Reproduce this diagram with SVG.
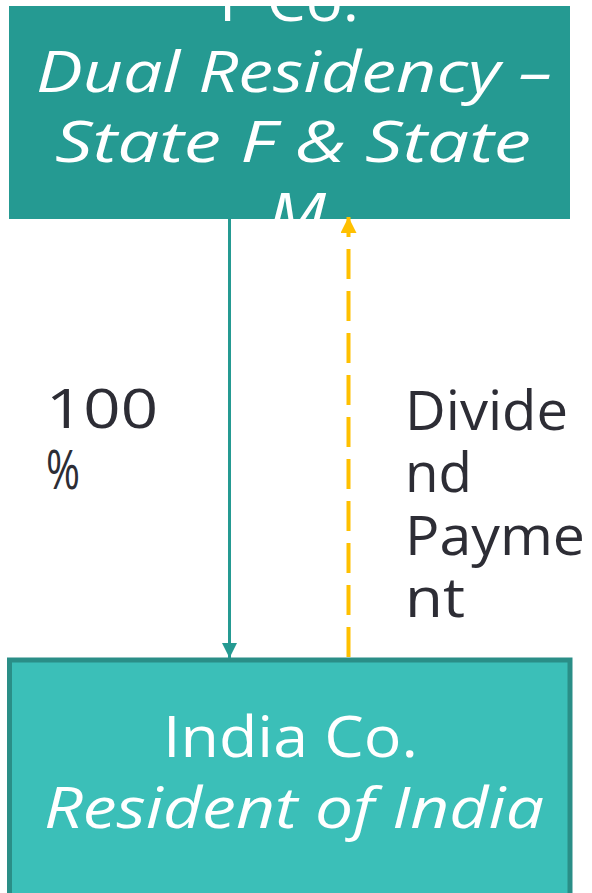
<svg xmlns="http://www.w3.org/2000/svg" width="592" height="893" viewBox="0 0 592 893">
  <style>
    .box-text { font-family: "Open Sans", "DejaVu Sans", sans-serif; fill: #ffffff; font-size: 56px; text-anchor: start; }
    .it { font-style: italic; }
    .label { font-family: "Open Sans", "DejaVu Sans", sans-serif; fill: #2d2d35; font-size: 54px; }
    .own { stroke: #259a92; stroke-width: 3; fill: none; }
    .div { stroke: #ffc000; stroke-width: 4; stroke-dasharray: 30 12; fill: none; }
  </style>
  <defs>
    <clipPath id="clip-fco">
      <rect x="9" y="6" width="561" height="213"/>
    </clipPath>
    <marker id="arrow-teal" viewBox="0 0 10 10" refX="10" refY="5" markerUnits="userSpaceOnUse" markerWidth="15" markerHeight="15" orient="auto">
      <path d="M0,0 L10,5 L0,10 Z" fill="#259a92"/>
    </marker>
    <marker id="arrow-gold" viewBox="0 0 10 10" refX="10" refY="5" markerUnits="userSpaceOnUse" markerWidth="16" markerHeight="16" orient="auto">
      <path d="M0,0 L10,5 L0,10 Z" fill="#ffc000"/>
    </marker>
  </defs>

  <!-- F Co. -->
  <g id="f-co">
    <rect x="9" y="6" width="561" height="213" fill="#259a92"/>
    <g clip-path="url(#clip-fco)">
      <text class="box-text" x="219" y="21" textLength="140" lengthAdjust="spacingAndGlyphs">F Co.</text>
      <text class="box-text it" x="36" y="92" textLength="516" lengthAdjust="spacingAndGlyphs">Dual Residency –</text>
      <text class="box-text it" x="55" y="162" textLength="476" lengthAdjust="spacingAndGlyphs">State F &amp; State</text>
      <text class="box-text it" x="268" y="234" textLength="58" lengthAdjust="spacingAndGlyphs">M</text>
    </g>
  </g>

  <!-- India Co. -->
  <g id="india-co">
    <rect x="9.5" y="660" width="560.5" height="300" fill="#3bbfb8" stroke="#2a8e87" stroke-width="5"/>
    <text class="box-text" x="163" y="757" font-size="58" textLength="255" lengthAdjust="spacingAndGlyphs">India Co.</text>
    <text class="box-text it" x="44" y="828" font-size="58" textLength="500" lengthAdjust="spacingAndGlyphs">Resident of India</text>
  </g>

  <!-- connectors -->
  <g id="connectors">
    <line class="own" x1="229.5" y1="219" x2="229.5" y2="658" marker-end="url(#arrow-teal)"/>
    <line class="div" x1="348.5" y1="657" x2="348.5" y2="217" marker-end="url(#arrow-gold)"/>
    <g id="label-ownership">
      <text class="label" x="46" y="428" textLength="112" lengthAdjust="spacingAndGlyphs">100</text>
      <text class="label" x="46" y="489" textLength="34" lengthAdjust="spacingAndGlyphs">%</text>
    </g>
    <g id="label-dividend">
      <text class="label" x="405" y="430" textLength="163" lengthAdjust="spacingAndGlyphs">Divide</text>
      <text class="label" x="405" y="492" textLength="67" lengthAdjust="spacingAndGlyphs">nd</text>
      <text class="label" x="405" y="555" textLength="180" lengthAdjust="spacingAndGlyphs">Payme</text>
      <text class="label" x="405" y="617" textLength="60" lengthAdjust="spacingAndGlyphs">nt</text>
    </g>
  </g>
</svg>
